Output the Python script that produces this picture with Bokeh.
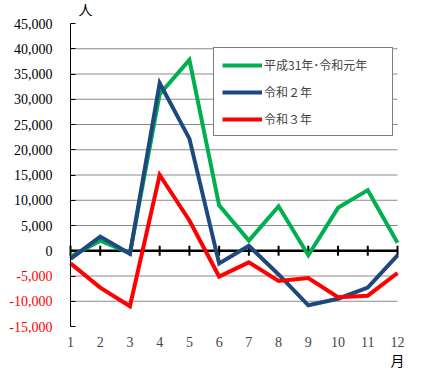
from bokeh.plotting import figure
from bokeh.models import (Range1d, FixedTicker, Legend, LegendItem, LinearAxis)
from bokeh.core.properties import value
from bokeh.embed import file_html
from bokeh.resources import INLINE
import numpy as np

# ---- data ----
months = list(range(1, 13))
month_labels = [str(m) for m in months]
h31_r1 = [-1200, 2000, -500, 31000, 37800, 9000, 2000, 8800, -900, 8500, 12000, 1600]
r2 = [-1600, 2800, -600, 33200, 22200, -2500, 1000, -4700, -10800, -9500, -7300, -900]
r3 = [-2500, -7300, -11000, 15000, 6000, -5100, -2300, -6000, -5400, -9200, -8900, -4400]
series_names = ["平成31年･令和元年", "令和２年", "令和３年"]
series_colors = ["#00B050", "#1F497D", "#FF0000"]
y_ticks = list(range(-15000, 45001, 5000))
y_tick_labels = [f"{v:,}" for v in y_ticks]
y_label_colors = ["#FF0000" if v < 0 else "black" for v in y_ticks]
grid_ticks = [v for v in y_ticks if y_ticks[0] < v < y_ticks[-1]]
y_unit = "人"
x_unit = "月"

SERIF = "Liberation Serif"
CJK = "Noto Sans CJK JP"

# ---- layout (pixels) ----
FW, FH = 407, 373
L, R, T, B = 70, 397, 23, 326       # plotting rectangle inside the canvas
kx = (R - L) / (months[-1] - months[0])
ky = (B - T) / (y_ticks[-1] - y_ticks[0])
x_start = months[0] - L / kx
x_end = months[-1] + (FW - R) / kx
y_end = y_ticks[-1] + T / ky
y_start = y_ticks[0] - (FH - B) / ky

p = figure(width=FW, height=FH, x_range=Range1d(x_start, x_end), y_range=Range1d(y_start, y_end),
           output_backend="svg", toolbar_location=None,
           x_axis_location=None, y_axis_location=None, min_border=0)
p.outline_line_color = None
p.background_fill_color = "white"
p.border_fill_color = "white"
p.grid.visible = False

# horizontal grid lines between the first and last month
p.segment(x0=[months[0]] * len(grid_ticks), x1=[months[-1]] * len(grid_ticks),
          y0=grid_ticks, y1=grid_ticks, line_color="#8a8a8a", line_width=1)

# y axis (line + inward ticks) at the first month
ax_y = LinearAxis(fixed_location=months[0], ticker=FixedTicker(ticks=y_ticks),
                  bounds=(y_ticks[0], y_ticks[-1]),
                  major_label_overrides={v: "" for v in y_ticks},
                  axis_line_color="black", axis_line_width=1,
                  major_tick_in=5, major_tick_out=0, major_tick_line_color="black",
                  minor_tick_line_color=None, major_label_text_font_size="0px")
p.add_layout(ax_y, "left")

# y tick labels (negative values in red)
p.text(x=[months[0] - 18 / kx] * len(y_ticks), y=y_ticks, text=y_tick_labels,
       text_color=y_label_colors, text_align="right", text_baseline="middle",
       text_font=value(SERIF), text_font_size="14px")

# x axis labels at the bottom of the value range
ax_x = LinearAxis(fixed_location=y_ticks[0], ticker=FixedTicker(ticks=months),
                  major_label_overrides={m: lab for m, lab in zip(months, month_labels)},
                  axis_line_color=None, major_tick_line_color=None, minor_tick_line_color=None,
                  major_tick_in=0, major_tick_out=0, major_label_standoff=10,
                  major_label_text_font=SERIF, major_label_text_font_size="14px")
p.add_layout(ax_x, "below")

# zero line with month ticks
p.line(months, [0] * len(months), line_color="black", line_width=2.5)
p.scatter(x=months, y=[0] * len(months), marker="dash", angle=np.pi / 2, size=10,
          line_color="black", line_width=2)

# series
renderers = []
for vals, col in zip([h31_r1, r2, r3], series_colors):
    r = p.line(months, vals, line_color=col, line_width=4, line_join="miter")
    renderers.append(r)

legend = Legend(items=[LegendItem(label=n, renderers=[r]) for n, r in zip(series_names, renderers)],
                location=(213, FH - 136), padding=8, spacing=10, glyph_width=40, glyph_height=16,
                label_height=16, label_standoff=2, label_width=120,
                label_text_font=CJK, label_text_font_size="12px",
                border_line_color="black", border_line_width=1,
                background_fill_color="white", background_fill_alpha=1)
p.add_layout(legend, "center")

# unit labels
p.text(x=[months[0] + 15 / kx], y=[y_ticks[-1] + 5 / ky], text=[y_unit],
       text_align="center", text_baseline="bottom", text_font=value(CJK), text_font_size="14px")
p.text(x=[months[-1]], y=[y_ticks[0] - 33 / ky], text=[x_unit],
       text_align="center", text_baseline="middle", text_font=value(CJK), text_font_size="14px")

open("out.html", "w").write(file_html(p, INLINE))
